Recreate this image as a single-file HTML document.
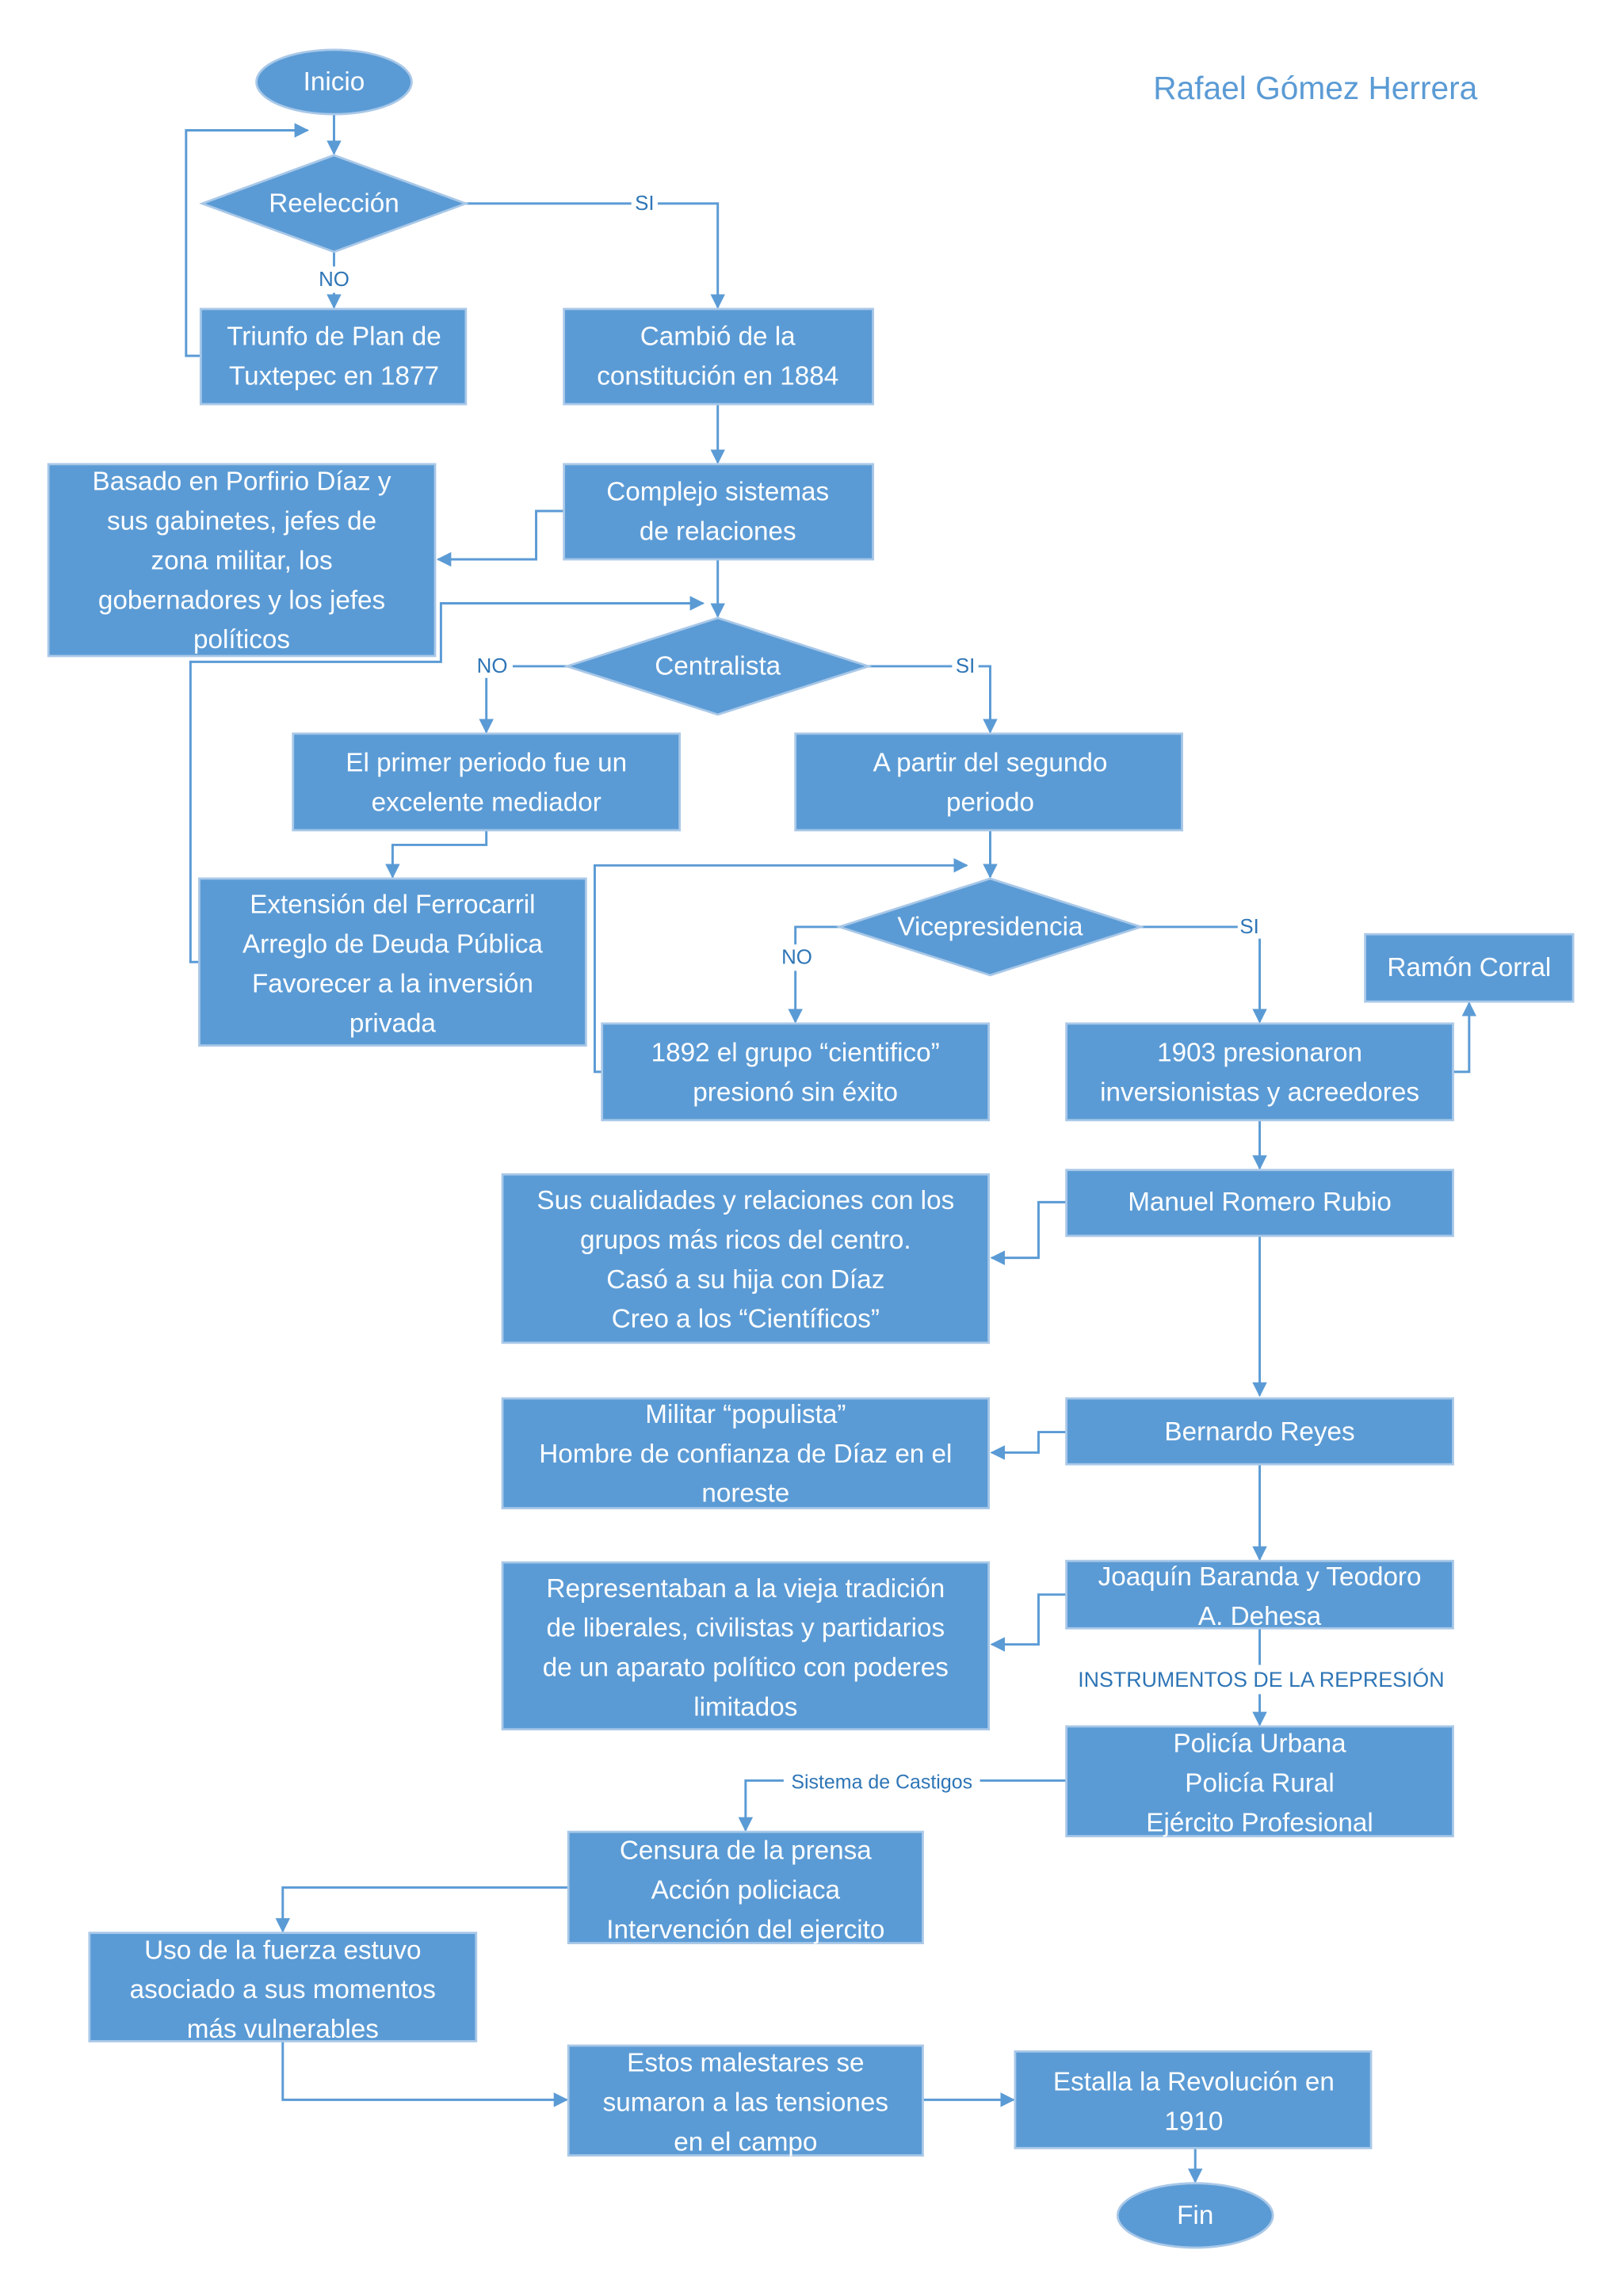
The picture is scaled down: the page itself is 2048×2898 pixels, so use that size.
<!DOCTYPE html>
<html><head><meta charset="utf-8"><style>
html,body{margin:0;padding:0;background:#fff}
svg{display:block}
.b{fill:#5b9bd5;stroke:#a9c8e8;stroke-width:1.5}
.t{fill:#fff;font-family:"Liberation Sans",sans-serif;font-size:18px;text-anchor:middle;dominant-baseline:central}
.l{fill:none;stroke:#5b9bd5;stroke-width:1.6}
.lb{fill:#2e75b6;font-family:"Liberation Sans",sans-serif;font-size:14px;text-anchor:middle;dominant-baseline:central}
</style></head><body>
<svg width="2048" height="2898" viewBox="0 0 1108 1568" xmlns="http://www.w3.org/2000/svg">
<defs><marker id="a" markerWidth="10" markerHeight="10" refX="9" refY="5" orient="auto" markerUnits="userSpaceOnUse"><path d="M0,0 L10,5 L0,10 Z" fill="#5b9bd5"/></marker></defs>
<text x="898" y="60" style="fill:#5b9bd5;font-family:'Liberation Sans',sans-serif;font-size:22px;text-anchor:middle;dominant-baseline:central">Rafael Gómez Herrera</text>

<g class="l" marker-end="url(#a)">
<path d="M228,78 V105"/>
<path d="M137,243 H127 V89 H210"/>
<path d="M228,172 V210"/>
<path d="M318,139 H490 V210"/>
<path d="M490,276 V316"/>
<path d="M385,349 H366 V382 H299"/>
<path d="M490,382 V421"/>
<path d="M136,657 H130 V452 H301 V412 H480"/>
<path d="M387,455 H332 V500"/>
<path d="M593,455 H676 V500"/>
<path d="M332,567 V577 H268 V599"/>
<path d="M676,567 V599"/>
<path d="M411,732 H406 V591 H660"/>
<path d="M573,633 H543 V698"/>
<path d="M779,633 H860 V698"/>
<path d="M992,732 H1003 V685"/>
<path d="M860,765 V798"/>
<path d="M728,821 H709 V859 H677"/>
<path d="M860,844 V953"/>
<path d="M728,978 H709 V992 H677"/>
<path d="M860,1000 V1065"/>
<path d="M728,1089 H709 V1123 H677"/>
<path d="M860,1112 V1178"/>
<path d="M728,1216 H509 V1250"/>
<path d="M388,1289 H193 V1319"/>
<path d="M193,1394 V1434 H387"/>
<path d="M630,1434 H692"/>
<path d="M816,1467 V1490"/>
</g>
<g>
<rect x="212" y="182" width="32" height="18" fill="#fff"/><text class="lb" x="228" y="191">NO</text>
<rect x="431" y="131" width="18" height="16" fill="#fff"/><text class="lb" x="440" y="139">SI</text>
<rect x="322" y="447" width="28" height="16" fill="#fff"/><text class="lb" x="336" y="455">NO</text>
<rect x="650" y="447" width="18" height="16" fill="#fff"/><text class="lb" x="659" y="455">SI</text>
<rect x="530" y="645" width="28" height="18" fill="#fff"/><text class="lb" x="544" y="654">NO</text>
<rect x="845" y="625" width="16" height="16" fill="#fff"/><text class="lb" x="853" y="633">SI</text>
<rect x="730" y="1137" width="262" height="20" fill="#fff"/><text class="lb" x="861" y="1147" style="font-size:14.5px">INSTRUMENTOS DE LA REPRESIÓN</text>
<rect x="535" y="1208" width="134" height="18" fill="#fff"/><text class="lb" x="602" y="1217" style="font-size:13.5px">Sistema de Castigos</text>
</g>

<ellipse class="b" cx="228" cy="56" rx="53" ry="22"/><text class="t" x="228" y="56">Inicio</text>
<polygon class="b" points="228,106 318,139 228,172 138,139"/><text class="t" x="228" y="139">Reelección</text>
<rect class="b" x="137" y="211" width="181" height="65"/><text class="t" x="228" y="230">Triunfo de Plan de</text><text class="t" x="228" y="257">Tuxtepec en 1877</text>
<rect class="b" x="385" y="211" width="211" height="65"/><text class="t" x="490" y="230">Cambió de la</text><text class="t" x="490" y="257">constitución en 1884</text>
<rect class="b" x="385" y="317" width="211" height="65"/><text class="t" x="490" y="336">Complejo sistemas</text><text class="t" x="490" y="363">de relaciones</text>
<rect class="b" x="33" y="317" width="264" height="131"/>
<text class="t" x="165" y="329">Basado en Porfirio Díaz y</text><text class="t" x="165" y="356">sus gabinetes, jefes de</text><text class="t" x="165" y="383">zona militar, los</text><text class="t" x="165" y="410">gobernadores y los jefes</text><text class="t" x="165" y="437">políticos</text>
<polygon class="b" points="490,422 593,455 490,488 387,455"/><text class="t" x="490" y="455">Centralista</text>
<rect class="b" x="200" y="501" width="264" height="66"/><text class="t" x="332" y="521">El primer periodo fue un</text><text class="t" x="332" y="548">excelente mediador</text>
<rect class="b" x="543" y="501" width="264" height="66"/><text class="t" x="676" y="521">A partir del segundo</text><text class="t" x="676" y="548">periodo</text>
<rect class="b" x="136" y="600" width="264" height="114"/><text class="t" x="268" y="618">Extensión del Ferrocarril</text><text class="t" x="268" y="645">Arreglo de Deuda Pública</text><text class="t" x="268" y="672">Favorecer a la inversión</text><text class="t" x="268" y="699">privada</text>
<polygon class="b" points="676,600 779,633 676,666 573,633"/><text class="t" x="676" y="633">Vicepresidencia</text>
<rect class="b" x="932" y="638" width="142" height="46"/><text class="t" x="1003" y="661">Ramón Corral</text>
<rect class="b" x="411" y="699" width="264" height="66"/><text class="t" x="543" y="719">1892 el grupo “cientifico”</text><text class="t" x="543" y="746">presionó sin éxito</text>
<rect class="b" x="728" y="699" width="264" height="66"/><text class="t" x="860" y="719">1903 presionaron</text><text class="t" x="860" y="746">inversionistas y acreedores</text>
<rect class="b" x="728" y="799" width="264" height="45"/><text class="t" x="860" y="821">Manuel Romero Rubio</text>
<rect class="b" x="343" y="802" width="332" height="115"/><text class="t" x="509" y="820">Sus cualidades y relaciones con los</text><text class="t" x="509" y="847">grupos más ricos del centro.</text><text class="t" x="509" y="874">Casó a su hija con Díaz</text><text class="t" x="509" y="901">Creo a los “Científicos”</text>
<rect class="b" x="728" y="955" width="264" height="45"/><text class="t" x="860" y="978">Bernardo Reyes</text>
<rect class="b" x="343" y="955" width="332" height="75"/><text class="t" x="509" y="966">Militar “populista”</text><text class="t" x="509" y="993">Hombre de confianza de Díaz en el</text><text class="t" x="509" y="1020">noreste</text>
<rect class="b" x="728" y="1066" width="264" height="46"/><text class="t" x="860" y="1077">Joaquín Baranda y Teodoro</text><text class="t" x="860" y="1104">A. Dehesa</text>
<rect class="b" x="343" y="1067" width="332" height="114"/><text class="t" x="509" y="1085">Representaban a la vieja tradición</text><text class="t" x="509" y="1112">de liberales, civilistas y partidarios</text><text class="t" x="509" y="1139">de un aparato político con poderes</text><text class="t" x="509" y="1166">limitados</text>
<rect class="b" x="728" y="1179" width="264" height="75"/><text class="t" x="860" y="1191">Policía Urbana</text><text class="t" x="860" y="1218">Policía Rural</text><text class="t" x="860" y="1245">Ejército Profesional</text>
<rect class="b" x="388" y="1251" width="242" height="76"/><text class="t" x="509" y="1264">Censura de la prensa</text><text class="t" x="509" y="1291">Acción policiaca</text><text class="t" x="509" y="1318">Intervención del ejercito</text>
<rect class="b" x="61" y="1320" width="264" height="74"/><text class="t" x="193" y="1332">Uso de la fuerza estuvo</text><text class="t" x="193" y="1359">asociado a sus momentos</text><text class="t" x="193" y="1386">más vulnerables</text>
<rect class="b" x="388" y="1397" width="242" height="75"/><text class="t" x="509" y="1409">Estos malestares se</text><text class="t" x="509" y="1436">sumaron a las tensiones</text><text class="t" x="509" y="1463">en el campo</text>
<rect class="b" x="693" y="1401" width="243" height="66"/><text class="t" x="815" y="1422">Estalla la Revolución en</text><text class="t" x="815" y="1449">1910</text>
<ellipse class="b" cx="816" cy="1513" rx="53" ry="22"/><text class="t" x="816" y="1513">Fin</text>
</svg>
</body></html>
